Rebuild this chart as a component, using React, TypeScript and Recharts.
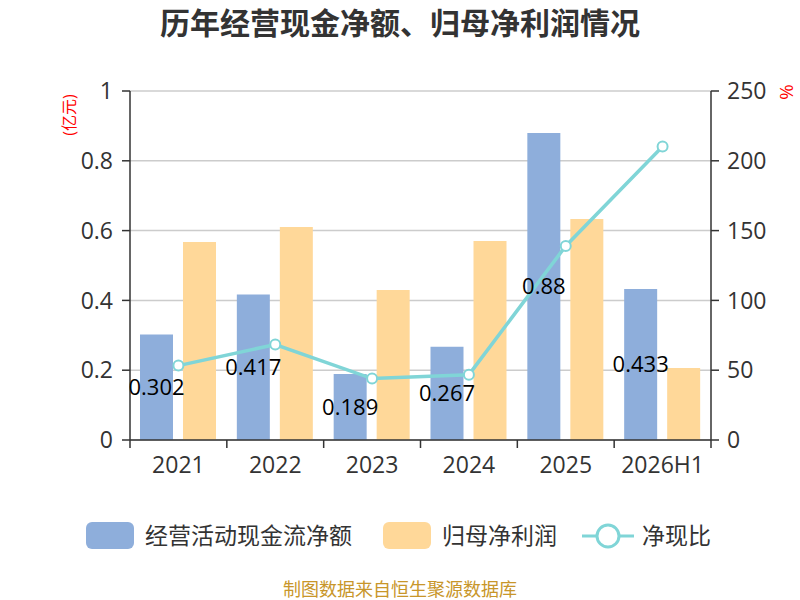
import {
  Bar,
  CartesianGrid,
  ComposedChart,
  LabelList,
  Line,
  XAxis,
  YAxis,
} from "recharts"

const years = ["2021", "2022", "2023", "2024", "2025", "2026H1"]
const cashFlow = [0.302, 0.417, 0.189, 0.267, 0.88, 0.433]
const netProfit = [0.567, 0.61, 0.43, 0.57, 0.633, 0.206]
const cashRatio = [53.3, 68.4, 44.0, 46.8, 139.0, 210.2]

const leftTicks = [0, 0.2, 0.4, 0.6, 0.8, 1]
const rightTicks = [0, 50, 100, 150, 200, 250]

const chartData = years.map((year, i) => ({
  year,
  cash: cashFlow[i],
  profit: netProfit[i],
  ratio: cashRatio[i],
}))

const BLUE = "#8eaedb"
const YELLOW = "#ffd899"
const TEAL = "#80d5d7"
const AXIS = "#333"
const FONT = "'Open Sans', 'Noto Sans CJK SC', sans-serif"

// x tick: label in the middle, tick marks on the category edges
const XTick = (props: any) => {
  const { x, y, payload, index, visibleTicksCount } = props
  const half = payload?.offset ?? 0
  const top = y - 17
  return (
    <g>
      <line x1={x - half} x2={x - half} y1={top} y2={top + 8} stroke={AXIS} strokeWidth={1.5} />
      {index === visibleTicksCount - 1 && (
        <line x1={x + half} x2={x + half} y1={top} y2={top + 8} stroke={AXIS} strokeWidth={1.5} />
      )}
      <text x={x} y={y} dy="0.71em" textAnchor="middle" fill={AXIS} fontSize={23} fontFamily={FONT}>
        {payload.value}
      </text>
    </g>
  )
}

export default function App() {
  return (
    <div style={{ position: "absolute", left: 0, top: 0, width: 800, height: 600, background: "#fff", fontFamily: FONT }}>
      <div style={{ position: "absolute", top: 2, width: 800, textAlign: "center", fontSize: 30, lineHeight: "42px", fontWeight: "bold", color: "#333" }}>
        历年经营现金净额、归母净利润情况
      </div>
      <ComposedChart
        width={800}
        height={600}
        data={chartData}
        margin={{ top: 91, right: 29, left: 70, bottom: 120 }}
        barGap={10}
        barSize={33}
      >
        <CartesianGrid vertical={false} stroke="#ccc" strokeWidth={1.5} yAxisId="left" />
        <XAxis
          dataKey="year"
          height={40}
          tickLine={false}
          tickSize={8}
          tickMargin={9}
          stroke={AXIS}
          strokeWidth={1.5}
          tick={<XTick />}
          interval={0}
        />
        <YAxis
          yAxisId="left"
          width={60}
          domain={[0, 1]}
          ticks={leftTicks}
          tickSize={8}
          tickMargin={9}
          stroke={AXIS}
          strokeWidth={1.5}
          tick={{ fill: AXIS, fontSize: 23, fontFamily: FONT }}
        />
        <YAxis
          yAxisId="right"
          orientation="right"
          width={60}
          domain={[0, 250]}
          ticks={rightTicks}
          tickSize={8}
          tickMargin={8}
          stroke={AXIS}
          strokeWidth={1.5}
          tick={{ fill: AXIS, fontSize: 23, fontFamily: FONT }}
        />
        <Bar yAxisId="left" dataKey="cash" fill={BLUE} isAnimationActive={false}>
          <LabelList dataKey="cash" position="center" fill="#000" fontSize={22} fontFamily={FONT} />
        </Bar>
        <Bar yAxisId="left" dataKey="profit" fill={YELLOW} isAnimationActive={false} />
        <Line
          yAxisId="right"
          dataKey="ratio"
          stroke={TEAL}
          strokeWidth={3.5}
          dot={{ r: 5, fill: "#fff", stroke: TEAL, strokeWidth: 2 }}
          isAnimationActive={false}
        />
      </ComposedChart>
      <div style={{ position: "absolute", left: 68, top: 115, transform: "translate(-50%, -50%) rotate(-90deg)", color: "red", fontSize: 16, whiteSpace: "nowrap" }}>
        (亿元)
      </div>
      <div style={{ position: "absolute", left: 787, top: 92, transform: "translate(-50%, -50%) rotate(90deg)", color: "red", fontSize: 19 }}>
        %
      </div>
      <div style={{ position: "absolute", top: 521, left: 0, width: 800, height: 30, fontSize: 23, color: "#333" }}>
        <div style={{ position: "absolute", left: 86, top: 1, width: 48, height: 27, borderRadius: 6, background: BLUE }} />
        <div style={{ position: "absolute", left: 145, top: -2, lineHeight: "32px" }}>经营活动现金流净额</div>
        <div style={{ position: "absolute", left: 383, top: 1, width: 48, height: 27, borderRadius: 6, background: YELLOW }} />
        <div style={{ position: "absolute", left: 442, top: -2, lineHeight: "32px" }}>归母净利润</div>
        <svg style={{ position: "absolute", left: 582, top: 0 }} width={52} height={30}>
          <line x1={0} x2={52} y1={15} y2={15} stroke={TEAL} strokeWidth={3} />
          <circle cx={26} cy={15} r={11} fill="#fff" stroke={TEAL} strokeWidth={3} />
        </svg>
        <div style={{ position: "absolute", left: 642, top: -2, lineHeight: "32px" }}>净现比</div>
      </div>
      <div style={{ position: "absolute", top: 578, width: 800, textAlign: "center", fontSize: 18, lineHeight: "22px", color: "#c8962a" }}>
        制图数据来自恒生聚源数据库
      </div>
    </div>
  )
}
